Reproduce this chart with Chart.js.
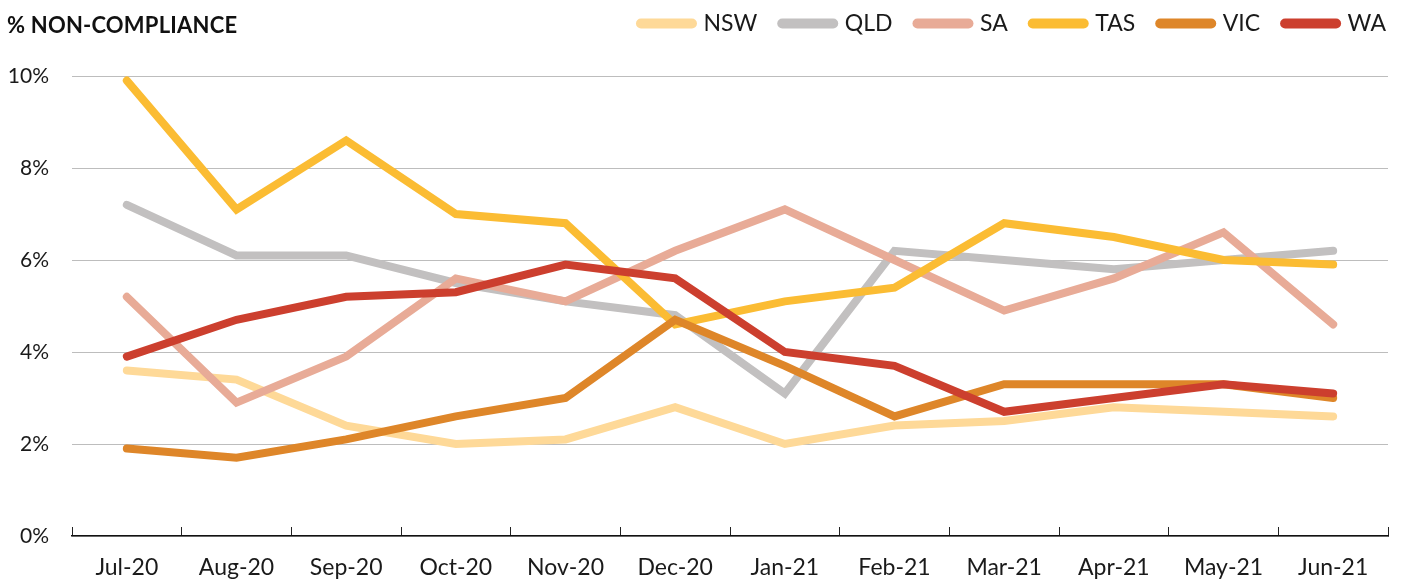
<!DOCTYPE html>
<html>
<head>
<meta charset="utf-8">
<script src="https://cdn.jsdelivr.net/npm/chart.js@4.4.1/dist/chart.umd.min.js"></script>
<style>
  body { margin: 0; background: #fff; }
  #wrap { position: relative; width: 1403px; height: 580px; }
  #title {
    position: absolute; left: 7px; top: 11px;
    font-family: Lato, sans-serif; font-weight: 700; font-size: 22px;
    color: #111; letter-spacing: 0.2px;
  }
</style>
</head>
<body>
<div id="wrap">
  <canvas id="complianceChart"></canvas>
  <div id="title">% NON-COMPLIANCE</div>
</div>
<script>
// --- DATA ---
const months = ['Jul-20', 'Aug-20', 'Sep-20', 'Oct-20', 'Nov-20', 'Dec-20',
                'Jan-21', 'Feb-21', 'Mar-21', 'Apr-21', 'May-21', 'Jun-21'];
const states = ['NSW', 'QLD', 'SA', 'TAS', 'VIC', 'WA'];
const nsw = [3.6, 3.4, 2.4, 2.0, 2.1, 2.8, 2.0, 2.4, 2.5, 2.8, 2.7, 2.6];
const qld = [7.2, 6.1, 6.1, 5.5, 5.1, 4.8, 3.1, 6.2, 6.0, 5.8, 6.0, 6.2];
const sa  = [5.2, 2.9, 3.9, 5.6, 5.1, 6.2, 7.1, 6.0, 4.9, 5.6, 6.6, 4.6];
const tas = [9.9, 7.1, 8.6, 7.0, 6.8, 4.6, 5.1, 5.4, 6.8, 6.5, 6.0, 5.9];
const vic = [1.9, 1.7, 2.1, 2.6, 3.0, 4.7, 3.7, 2.6, 3.3, 3.3, 3.3, 3.0];
const wa  = [3.9, 4.7, 5.2, 5.3, 5.9, 5.6, 4.0, 3.7, 2.7, 3.0, 3.3, 3.1];
const seriesValues = [nsw, qld, sa, tas, vic, wa];
const colours = ['#fed998', '#c2c0c0', '#e8ab97', '#fbbc33', '#de8629', '#cc3f2e'];

const FONT = 'Lato, sans-serif';
const TEXT = '#1a1a1a';

// later states drawn on top (WA top), legend keeps NSW..WA order
const datasets = states.map((name, i) => ({
  label: name,
  data: seriesValues[i],
  borderColor: colours[i],
  backgroundColor: colours[i],
  borderWidth: 8,
  borderCapStyle: 'round',
  borderJoinStyle: 'miter',
  pointRadius: 0,
  pointHoverRadius: 0,
  tension: 0,
  order: states.length - 1 - i
}));

const defaultLabels = Chart.defaults.plugins.legend.labels.generateLabels;

// legend: extra room below it, and nudged up/right like the original
const legendSpace = {
  id: 'legendSpace',
  beforeInit(chart) {
    const origFit = chart.legend.fit;
    chart.legend.fit = function () {
      origFit.call(this);
      this.height += 18;
    };
  },
  afterLayout(chart) {
    const lg = chart.legend;
    lg.top -= 13;
    lg.bottom -= 13;
    lg.left += 23;
    lg.right += 23;
  }
};

new Chart(document.getElementById('complianceChart').getContext('2d'), {
  type: 'line',
  data: { labels: months, datasets: datasets },
  options: {
    responsive: true,
    maintainAspectRatio: false,
    animation: false,
    layout: { padding: { top: 0, right: 15, left: 0, bottom: 0 } },
    plugins: {
      tooltip: { enabled: false },
      legend: {
        position: 'top',
        align: 'end',
        labels: {
          font: { family: FONT, size: 23 },
          color: TEXT,
          usePointStyle: true,
          pointStyle: 'line',
          pointStyleWidth: 51,
          boxHeight: 10,
          padding: 25,
          sort: (a, b) => a.datasetIndex - b.datasetIndex,
          generateLabels: (chart) => defaultLabels(chart).map(item => {
            item.lineWidth = 10;
            item.lineCap = 'round';
            item.fillStyle = item.strokeStyle;
            return item;
          })
        }
      }
    },
    scales: {
      x: {
        offset: true,
        afterFit: (scale) => { scale.height = 44; },
        grid: {
          display: true,
          offset: true,
          drawOnChartArea: false,
          drawTicks: true,
          tickLength: -9,
          tickColor: '#222',
          tickWidth: 1
        },
        border: { display: true, color: '#111', width: 1.5 },
        ticks: {
          font: { family: FONT, size: 23 },
          color: TEXT,
          padding: 27,
          maxRotation: 0
        }
      },
      y: {
        min: 0,
        max: 10,
        afterFit: (scale) => { scale.width = 72; },
        ticks: {
          stepSize: 2,
          font: { family: FONT, size: 21 },
          color: TEXT,
          padding: 23,
          callback: (v) => v + '%'
        },
        grid: {
          color: '#bdbdbd',
          lineWidth: 1,
          drawTicks: false
        },
        border: { display: false }
      }
    }
  },
  plugins: [legendSpace]
});
</script>
</body>
</html>
